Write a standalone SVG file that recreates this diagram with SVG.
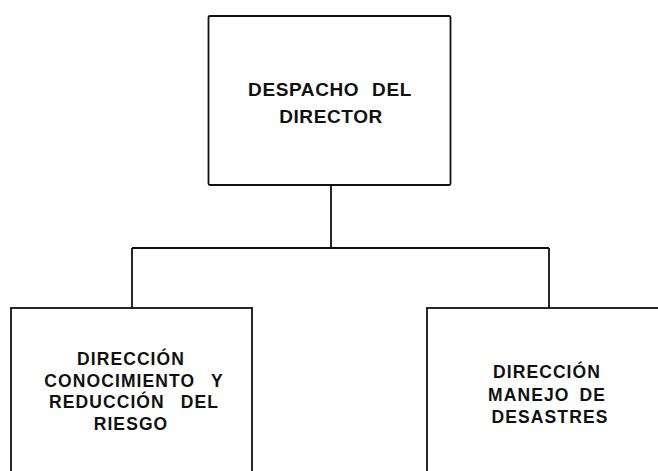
<svg xmlns="http://www.w3.org/2000/svg" width="658" height="471" viewBox="0 0 658 471">
<style>
.box{fill:#fff;stroke:#111;stroke-width:1.8}
.conn{fill:none;stroke:#111;stroke-width:1.8}
.t{font-family:"Liberation Sans",Arial,sans-serif;font-weight:bold;fill:#111;text-anchor:middle}
.top{font-size:19px;letter-spacing:0.6px;word-spacing:7px}
.sub{font-size:17.5px;letter-spacing:1.1px;word-spacing:4px}
.wide{word-spacing:10px}
</style>
<rect width="658" height="471" fill="#fff"/>
<g id="connectors">
<path class="conn" d="M331 185 V248 M132 248 H549 M132 248 V308 M549 248 V308"/>
</g>
<g id="despacho">
<rect class="box" x="208.5" y="16" width="242" height="169" rx="1.5"/>
<text class="t top" x="330" y="96">DESPACHO DEL</text>
<text class="t top" x="331" y="123">DIRECTOR</text>
</g>
<g id="conocimiento">
<rect class="box" x="11" y="308" width="241" height="180"/>
<text class="t sub" x="131" y="365">DIRECCIÓN</text>
<text class="t sub wide" x="134" y="387">CONOCIMIENTO Y</text>
<text class="t sub wide" x="134" y="408">REDUCCIÓN DEL</text>
<text class="t sub" x="131" y="430">RIESGO</text>
</g>
<g id="manejo">
<rect class="box" x="427" y="308" width="240" height="180"/>
<text class="t sub" x="547" y="378">DIRECCIÓN</text>
<text class="t sub" x="547" y="401">MANEJO DE</text>
<text class="t sub" x="550" y="423">DESASTRES</text>
</g>
</svg>
